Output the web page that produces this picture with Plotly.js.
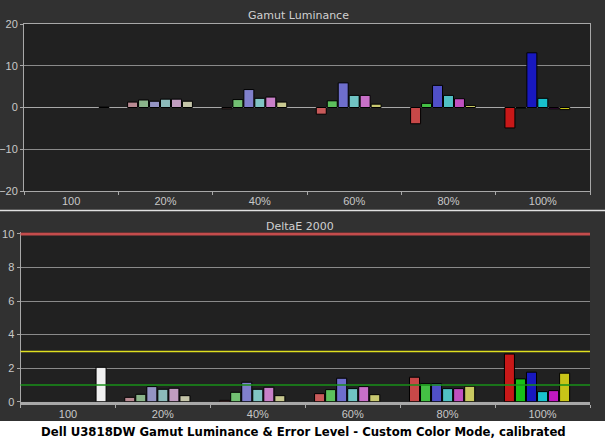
<!DOCTYPE html>
<html><head><meta charset="utf-8">
<script src="https://cdn.plot.ly/plotly-3.0.1.min.js"></script>
<style>html,body{margin:0;padding:0;background:#303030;}#chart{width:605px;height:441px;}</style>
</head><body><div id="chart"></div>
<script>
// ---- data ----
const categories = ['100', '20%', '40%', '60%', '80%', '100%'];
const seriesNames = ['Red', 'Green', 'Blue', 'Cyan', 'Magenta', 'Yellow', 'White'];

// Gamut Luminance (top)
const lumRed     = [null, 1.3, -0.3, -1.6, -3.9, -4.9];
const lumGreen   = [null, 1.8, 1.9, 1.6, 1.0, -0.15];
const lumBlue    = [null, 1.5, 4.3, 5.9, 5.3, 13.1];
const lumCyan    = [null, 2.0, 2.2, 2.9, 2.9, 2.2];
const lumMagenta = [null, 2.0, 2.5, 2.9, 2.1, -0.3];
const lumYellow  = [null, 1.5, 1.3, 0.8, 0.5, -0.5];
const lumWhite   = [0.1, null, null, null, null, null];

// DeltaE 2000 (bottom)
const deRed     = [null, 0.26, 0.08, 0.48, 1.46, 2.84];
const deGreen   = [null, 0.44, 0.56, 0.72, 1.08, 1.36];
const deBlue    = [null, 0.90, 1.16, 1.40, 1.08, 1.76];
const deCyan    = [null, 0.74, 0.74, 0.78, 0.78, 0.60];
const deMagenta = [null, 0.80, 0.86, 0.90, 0.78, 0.66];
const deYellow  = [null, 0.36, 0.36, 0.42, 0.92, 1.70];
const deWhite   = [2.05, null, null, null, null, null];

const deThresholds = [10, 3, 1];

// ---- styles ----
const palette = {
  Red:     ['#c81818', '#b88a92', '#c07878', '#c85a5a', '#c84848', '#c81818'],
  Green:   ['#18c018', '#8ab48a', '#72c072', '#5cc05c', '#44c044', '#18c018'],
  Blue:    ['#1818c0', '#9494c4', '#8080cc', '#6e6ecc', '#5050c8', '#1818c0'],
  Cyan:    ['#18c0cc', '#8cbaba', '#80c4c4', '#70c4c4', '#50c0c4', '#18c0cc'],
  Magenta: ['#c018c0', '#c09cc0', '#c880c8', '#c870c8', '#c050c0', '#c018c0'],
  Yellow:  ['#c8c418', '#c4c4a8', '#c8c890', '#c8c870', '#c8c860', '#c8c418'],
  White:   ['#f0f0f0', '#f0f0f0', '#f0f0f0', '#f0f0f0', '#f0f0f0', '#f0f0f0']
};
const thresholdColors = ['#c44c4c', '#e0e020', '#189018'];
const thresholdWidths = [3, 1.5, 1.5];

const lumSeries = [lumRed, lumGreen, lumBlue, lumCyan, lumMagenta, lumYellow, lumWhite];
const deSeries  = [deRed, deGreen, deBlue, deCyan, deMagenta, deYellow, deWhite];

const traces = [];
seriesNames.forEach((name, i) => {
  traces.push({type: 'bar', name: name, x: categories, y: lumSeries[i], xaxis: 'x', yaxis: 'y',
    marker: {color: palette[name], line: {color: '#000000', width: 1}}, showlegend: false, hoverinfo: 'x+y'});
});
seriesNames.forEach((name, i) => {
  traces.push({type: 'bar', name: name, x: categories, y: deSeries[i], xaxis: 'x2', yaxis: 'y2',
    marker: {color: palette[name], line: {color: '#000000', width: 1}}, showlegend: false, hoverinfo: 'x+y'});
});

const W = 605, H = 441;
const px = v => v / W;
const py = v => 1 - v / H;

const tickFont = {family: 'Liberation Sans', size: 11, color: '#c8c8c8'};
const axisCommon = {linecolor: '#a8a8a8', linewidth: 1, tickcolor: '#a8a8a8', tickfont: tickFont, fixedrange: true};

const shapes = [
  // white caption band
  {type: 'rect', xref: 'paper', yref: 'paper', x0: 0, x1: 1, y0: 0, y1: py(421), fillcolor: '#ffffff', line: {width: 0}, layer: 'below'},
  // divider
  {type: 'line', xref: 'paper', yref: 'paper', x0: 0, x1: 1, y0: py(210.5), y1: py(210.5), line: {color: '#e0e0e0', width: 1.5}}
];
deThresholds.forEach((t, i) => {
  shapes.push({type: 'line', xref: 'x2 domain', yref: 'y2', x0: 0, x1: 1, y0: t, y1: t,
    line: {color: thresholdColors[i], width: thresholdWidths[i]}});
});

const layout = {
  width: W, height: H,
  margin: {l: 0, r: 0, t: 0, b: 0},
  paper_bgcolor: '#313131',
  plot_bgcolor: '#212121',
  barmode: 'group',
  bargap: 0.186,
  bargroupgap: 0.09,
  showlegend: false,
  font: {family: 'DejaVu Sans', color: '#c8c8c8'},
  xaxis: Object.assign({}, axisCommon, {domain: [px(24), px(590)], anchor: 'y', type: 'category',
    tickson: 'boundaries', ticks: 'outside', ticklen: 3, showgrid: false, mirror: true, showline: true}),
  yaxis: Object.assign({}, axisCommon, {domain: [py(191), py(24)], anchor: 'x', range: [-20, 20], dtick: 10,
    ticks: 'outside', ticklen: 3, showgrid: true, gridcolor: '#8a8a8a', gridwidth: 1,
    zeroline: true, zerolinecolor: '#a8a8a8', zerolinewidth: 1, mirror: true, showline: true}),
  xaxis2: Object.assign({}, axisCommon, {domain: [px(20.5), px(590)], anchor: 'y2', type: 'category',
    tickson: 'boundaries', ticks: 'outside', ticklen: 3, showgrid: false, showline: true, linewidth: 3}),
  yaxis2: Object.assign({}, axisCommon, {domain: [py(401.7), py(232.3)], anchor: 'x2', range: [0, 10.1],
    tickvals: [0, 2, 4, 6, 8, 10],
    ticks: 'outside', ticklen: 3, showgrid: true, gridcolor: '#8a8a8a', gridwidth: 1, zeroline: false, showline: true}),
  shapes: shapes,
  annotations: [
    {text: 'Gamut Luminance', xref: 'paper', yref: 'paper', x: px(298), y: py(15), showarrow: false,
      xanchor: 'center', yanchor: 'middle', font: {family: 'DejaVu Sans', size: 11, color: '#d0d0d0'}},
    {text: 'DeltaE 2000', xref: 'paper', yref: 'paper', x: px(300), y: py(226), showarrow: false,
      xanchor: 'center', yanchor: 'middle', font: {family: 'DejaVu Sans', size: 11, color: '#d0d0d0'}},
    {text: '<b>Dell U3818DW Gamut Luminance &amp; Error Level - Custom Color Mode, calibrated</b>', xref: 'paper', yref: 'paper',
      x: px(303), y: py(431), showarrow: false, xanchor: 'center', yanchor: 'middle',
      font: {family: 'DejaVu Sans Condensed', size: 13, color: '#000000'}}
  ]
};

Plotly.newPlot('chart', traces, layout, {displayModeBar: false, staticPlot: true});
</script>
</body></html>
